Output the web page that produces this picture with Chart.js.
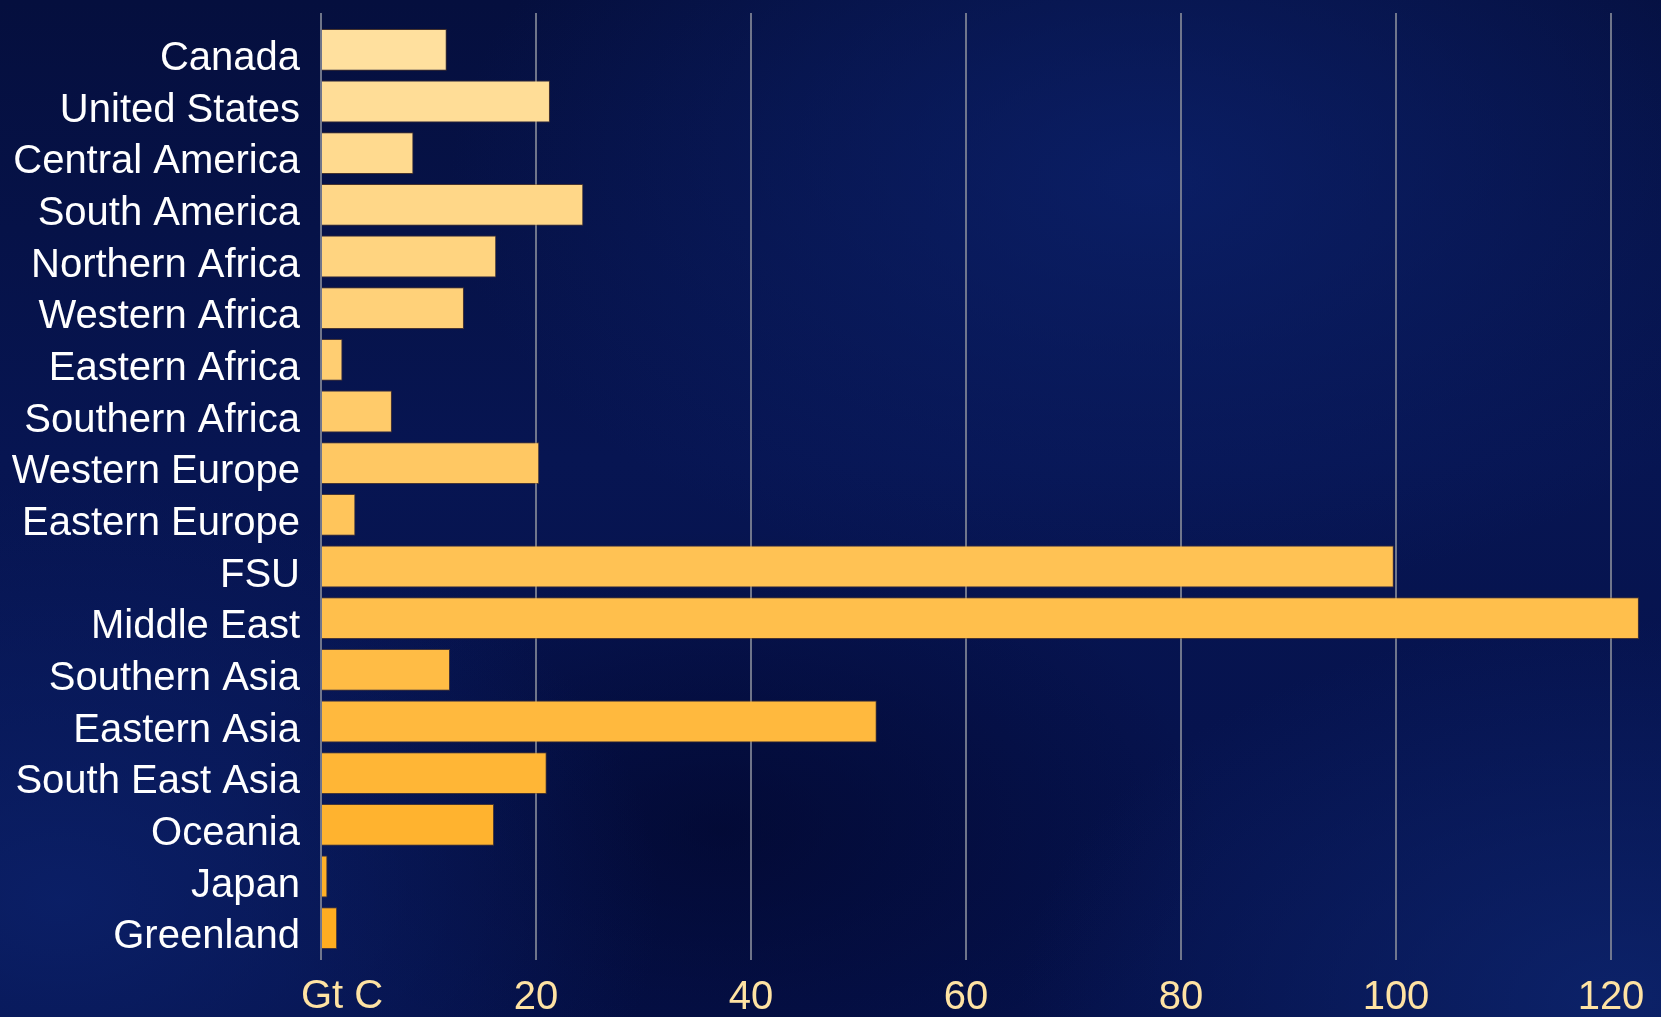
<!DOCTYPE html>
<html>
<head>
<meta charset="utf-8">
<script src="https://cdn.jsdelivr.net/npm/chart.js@4.4.1/dist/chart.umd.min.js"></script>
<style>
  html, body { margin: 0; padding: 0; }
  body {
    width: 1661px; height: 1017px; overflow: hidden;
    background:
      radial-gradient(ellipse 700px 420px at 1150px 180px, rgba(12, 34, 110, 0.75) 0%, rgba(12, 34, 110, 0) 100%),
      radial-gradient(ellipse 600px 420px at 60px 900px, rgba(12, 34, 108, 0.8) 0%, rgba(12, 34, 108, 0) 100%),
      radial-gradient(ellipse 600px 380px at 1620px 1000px, rgba(14, 38, 112, 0.8) 0%, rgba(14, 38, 112, 0) 100%),
      radial-gradient(ellipse 500px 300px at 720px 830px, rgba(1, 5, 40, 0.6) 0%, rgba(1, 5, 40, 0) 100%),
      linear-gradient(180deg, #050f3e 0%, #071552 45%, #05114a 100%);
  }
  canvas { display: block; }
</style>
</head>
<body>
<canvas id="barChart" width="1661" height="1017"></canvas>
<script>
document.addEventListener("DOMContentLoaded", function () {
    const ctx = document.getElementById("barChart").getContext("2d");

    // Data (Gt C)
    const regions = ["Canada", "United States", "Central America", "South America", "Northern Africa",
        "Western Africa", "Eastern Africa", "Southern Africa", "Western Europe", "Eastern Europe", "FSU",
        "Middle East", "Southern Asia", "Eastern Asia", "South East Asia", "Oceania", "Japan", "Greenland"];
    const carbon = [11.7, 21.3, 8.6, 24.4, 16.3, 13.3, 2.0, 6.6, 20.3, 3.2, 99.8,
        122.6, 12.0, 51.7, 21.0, 16.1, 0.6, 1.5];
    const xTicks = [0, 20, 40, 60, 80, 100, 120];
    const unitLabel = "Gt C";

    const font = "'Liberation Sans', Arial, Helvetica, sans-serif";
    const gridColor = "rgba(130,135,150,0.85)";

    // bar colour goes from pale to deeper orange down the list
    function barColor(i, n) {
        const t = i / (n - 1);
        const a = [255, 224, 158], b = [255, 173, 32];
        const c = a.map((v, k) => Math.round(v + (b[k] - v) * t));
        return "rgb(" + c.join(",") + ")";
    }

    // grid lines stick out a little above the plot, and the zero tick is labelled with the unit
    const extras = {
        id: "extras",
        beforeDatasetsDraw(chart) {
            const x = chart.scales.x, area = chart.chartArea, c = chart.ctx;
            c.save();
            c.strokeStyle = gridColor;
            c.lineWidth = 2;
            xTicks.forEach(v => {
                const px = x.getPixelForValue(v);
                c.beginPath();
                c.moveTo(px, area.top - 11);
                c.lineTo(px, area.top);
                c.stroke();
            });
            c.restore();
        },
        afterDraw(chart) {
            const x = chart.scales.x, c = chart.ctx;
            c.save();
            c.fillStyle = "#ffe3a3";
            c.font = "40px " + font;
            c.textAlign = "left";
            c.textBaseline = "middle";
            c.fillText(unitLabel, x.getPixelForValue(0) - 20, 997);
            c.restore();
        }
    };

    new Chart(ctx, {
        type: "bar",
        data: {
            labels: regions,
            datasets: [{
                data: carbon,
                backgroundColor: regions.map((r, i) => barColor(i, regions.length)),
                borderColor: "rgba(150,95,20,0.45)",
                borderWidth: 1,
                barPercentage: 0.81,
                categoryPercentage: 1,
                clip: false,
            }],
        },
        options: {
            indexAxis: "y",
            responsive: false,
            animation: false,
            layout: { padding: { top: 24, right: 50, left: 0, bottom: 0 } },
            plugins: {
                legend: { display: false },
                tooltip: { enabled: false },
            },
            scales: {
                x: {
                    min: 0,
                    max: 120,
                    afterBuildTicks: s => { s.ticks = xTicks.map(v => ({ value: v })); },
                    afterFit: s => { s.height = 63; s.paddingLeft = 0; s.paddingRight = 0; },
                    border: { display: false },
                    grid: {
                        color: gridColor,
                        lineWidth: 2,
                        drawTicks: true,
                        tickLength: 6,
                    },
                    ticks: {
                        color: "#ffe3a3",
                        font: { family: font, size: 40 },
                        padding: 14,
                        maxRotation: 0,
                        callback: v => (v === 0 ? "" : v),
                    },
                },
                y: {
                    afterFit: s => { s.width = 321; s.paddingTop = 0; s.paddingBottom = 0; },
                    border: { display: false },
                    grid: { display: false, drawTicks: false },
                    ticks: {
                        color: "#ffffff",
                        font: { family: font, size: 40 },
                        padding: 21,
                        labelOffset: 9,
                        autoSkip: false,
                    },
                },
            },
        },
        plugins: [extras],
    });
});
</script>
</body>
</html>
